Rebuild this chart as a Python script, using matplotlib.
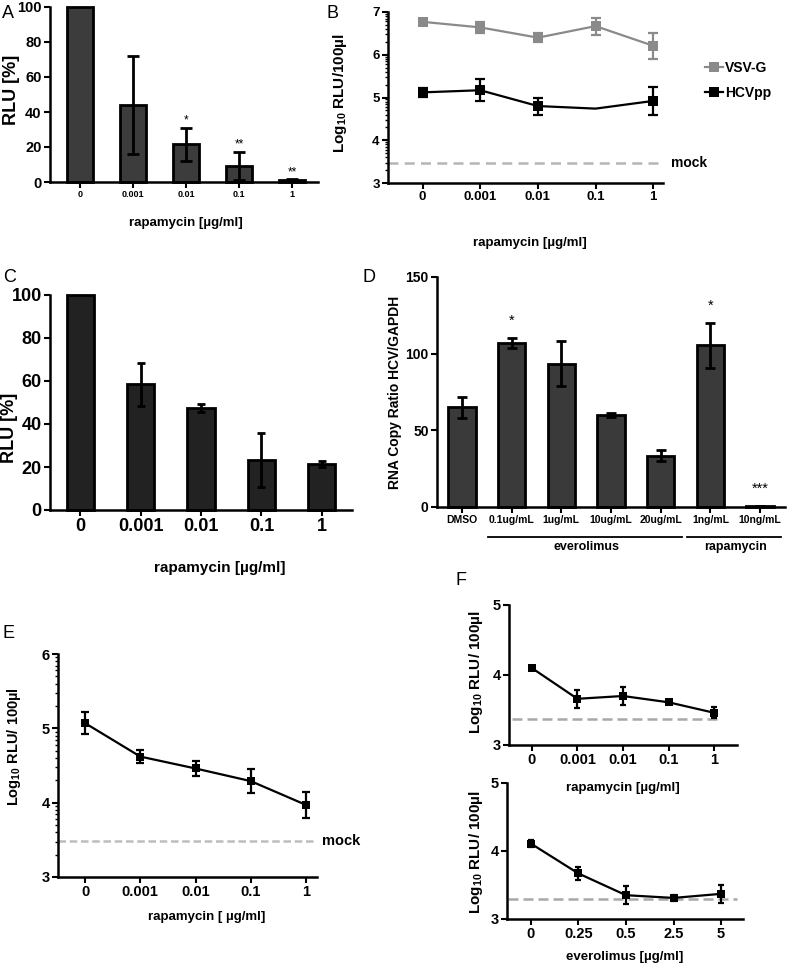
import matplotlib
matplotlib.use("Agg")
import matplotlib.pyplot as plt
import numpy as np
from matplotlib import font_manager

plt.rcParams["font.family"] = ["Liberation Sans", "DejaVu Sans"]
plt.rcParams["font.weight"] = "bold"
plt.rcParams["mathtext.fontset"] = "custom"
plt.rcParams["mathtext.rm"] = "Liberation Sans:bold"
plt.rcParams["mathtext.bf"] = "Liberation Sans:bold"
plt.rcParams["axes.facecolor"] = "none"

_names = {f.name for f in font_manager.fontManager.ttflist}
NARROW = "Liberation Sans Narrow" if "Liberation Sans Narrow" in _names else "Liberation Sans"

# ---- data -------------------------------------------------------------
rapa_doses = ["0", "0.001", "0.01", "0.1", "1"]
evero_doses = ["0", "0.25", "0.5", "2.5", "5"]

# A: RLU [%]
a_rlu = [100, 44, 21.5, 9, 1]
a_err = [0, 28, 9.5, 8, 0.5]
a_stars = ["", "", "*", "**", "**"]

# B: log10 RLU/100ul
b_vsvg = [6.77, 6.64, 6.40, 6.67, 6.21]
b_vsvg_err = [0, 0.12, 0.11, 0.2, 0.3]
b_hcvpp = [5.12, 5.17, 4.80, 4.74, 4.92]
b_hcvpp_err = [0.1, 0.26, 0.2, 0, 0.33]
b_mock = 3.47

# C: RLU [%]
c_rlu = [100, 58.5, 47.5, 23.3, 21.3]
c_err = [0, 10, 1.8, 12.5, 1.5]

# D: RNA copy ratio
d_labels = ["DMSO", "0.1ug/mL", "1ug/mL", "10ug/mL", "20ug/mL", "1ng/mL", "10ng/mL"]
d_ratio = [65, 107, 93.5, 60, 33.5, 105.5, 0.6]
d_err = [7, 3.5, 14.5, 1, 3.8, 14.8, 0.3]
d_stars = ["", "*", "", "", "", "*", "***"]
d_groups = {"everolimus": ["0.1ug/mL", "1ug/mL", "10ug/mL", "20ug/mL"],
            "rapamycin": ["1ng/mL", "10ng/mL"]}

# E
e_log = [5.07, 4.62, 4.46, 4.29, 3.97]
e_err = [0.15, 0.09, 0.1, 0.16, 0.18]
e_mock = 3.49

# F top (rapamycin) / bottom (everolimus)
f1_log = [4.10, 3.66, 3.70, 3.61, 3.46]
f1_err = [0.03, 0.13, 0.13, 0.02, 0.08]
f1_mock = 3.37
f2_log = [4.11, 3.67, 3.35, 3.31, 3.37]
f2_err = [0.05, 0.1, 0.13, 0.05, 0.13]
f2_mock = 3.30

W, H = 788, 966
fig = plt.figure(figsize=(W / 100, H / 100), dpi=100)


def box(x0, y0, x1, y1):
    # pixel box (top-left origin) -> figure fraction rect
    return [x0 / W, 1 - y1 / H, (x1 - x0) / W, (y1 - y0) / H]


def style(ax, ysize, xsize, xfamily=None):
    for s in ("top", "right"):
        ax.spines[s].set_visible(False)
    for s in ("left", "bottom"):
        ax.spines[s].set_linewidth(1.8)
    ax.tick_params(direction="out", length=4, width=1.5, pad=2)
    ax.tick_params(axis="y", labelsize=ysize)
    ax.tick_params(axis="x", labelsize=xsize)
    for t in ax.get_xticklabels() + ax.get_yticklabels():
        t.set_fontweight("bold")
    if xfamily:
        for t in ax.get_xticklabels():
            t.set_family(xfamily)


def xlabel_at(ax, text, cx, cy, size):
    ax.set_xlabel(text, fontsize=size, fontweight="bold")
    ax.xaxis.label.set_verticalalignment("center")
    ax.xaxis.set_label_coords(cx / W, 1 - cy / H, transform=fig.transFigure)


def ylabel_at(ax, text, cx, cy, size):
    ax.set_ylabel(text, fontsize=size, fontweight="bold")
    ax.yaxis.label.set_verticalalignment("center")
    ax.yaxis.set_label_coords(cx / W, 1 - cy / H, transform=fig.transFigure)


def log_minor(ax, lo, hi):
    ticks = [n + np.log10(k) for n in range(lo, hi) for k in range(2, 10)]
    ax.set_yticks(ticks, minor=True)
    ax.tick_params(axis="y", which="minor", length=2.5, width=1)


def errs(ax, x, y, e, color="black", lw=1.8, cap=3.5):
    idx = [i for i, v in enumerate(e) if v > 0]
    ax.errorbar([x[i] for i in idx], [y[i] for i in idx], yerr=[e[i] for i in idx],
                fmt="none", ecolor=color, elinewidth=lw, capsize=cap, capthick=lw, zorder=3)


def panel_letter(x, y, s):
    fig.text(x / W, 1 - y / H, s, fontsize=13, fontweight="normal", va="baseline")


# ---- A ----------------------------------------------------------------
axA = fig.add_axes(box(50, 7, 318, 182))
xa = np.arange(len(rapa_doses))
axA.bar(xa, a_rlu, 0.5, color="#3c3c3c", edgecolor="black", linewidth=2, clip_on=False, zorder=2)
errs(axA, xa, a_rlu, a_err, lw=2, cap=4)
for i, s in enumerate(a_stars):
    if s:
        axA.annotate(s, (xa[i], a_rlu[i] + a_err[i]), xytext=(0, 1), textcoords="offset points",
                     ha="center", va="bottom", fontsize=8.5, fontweight="normal")
axA.set_xlim(-0.57, 4.49)
axA.set_ylim(0, 100)
axA.set_yticks([0, 20, 40, 60, 80, 100])
axA.set_xticks(xa, rapa_doses)
style(axA, 10.5, 6.5)
xlabel_at(axA, "rapamycin [µg/ml]", 186, 223, 9.5)
ylabel_at(axA, "RLU [%]", 12, 90, 13)
panel_letter(2, 18, "A")

# ---- B ----------------------------------------------------------------
axB = fig.add_axes(box(388, 12, 663, 183))
xb = np.arange(len(rapa_doses))
axB.plot(xb, b_vsvg, "-s", color="#8a8a8a", lw=1.6, ms=6.5, mew=0, label="VSV-G", zorder=4)
errs(axB, xb, b_vsvg, b_vsvg_err, color="#8a8a8a", lw=1.6, cap=3.5)
axB.plot(xb, b_hcvpp, "-s", color="black", lw=1.6, ms=6.5, mew=0, markevery=[0, 1, 2, 4],
         label="HCVpp", zorder=4)
errs(axB, xb, b_hcvpp, b_hcvpp_err, lw=1.6, cap=3.5)
axB.axhline(b_mock, color="#b5b5b5", lw=1.8, ls=(0, (4, 2.5)), zorder=1)
axB.text(1.03, b_mock, "mock", transform=axB.get_yaxis_transform(), fontsize=10,
         fontweight="bold", va="center", ha="left")
axB.set_xlim(-0.6, 4.17)
axB.set_ylim(3, 7)
axB.set_yticks([3, 4, 5, 6, 7])
log_minor(axB, 3, 7)
axB.set_xticks(xb, rapa_doses)
style(axB, 9.5, 9.5)
xlabel_at(axB, "rapamycin [µg/ml]", 530, 243, 9.5)
ylabel_at(axB, r"Log$_{10}$ RLU/100µl", 340, 93, 11)
axB.legend(loc="upper left", bbox_to_anchor=(692 / W, 1 - 48 / H), bbox_transform=fig.transFigure,
           frameon=False, handlelength=1.3, handletextpad=0.15, labelspacing=0.8,
           prop={"weight": "bold", "size": 10})
panel_letter(327, 18, "B")

# ---- C ----------------------------------------------------------------
axC = fig.add_axes(box(50, 295, 352, 510))
xc = np.arange(len(rapa_doses))
axC.bar(xc, c_rlu, 0.45, color="#222222", edgecolor="black", linewidth=2, clip_on=False, zorder=2)
errs(axC, xc, c_rlu, c_err, lw=2, cap=3)
axC.set_xlim(-0.5, 4.5)
axC.set_ylim(0, 100)
axC.set_yticks([0, 20, 40, 60, 80, 100])
axC.set_xticks(xc, rapa_doses)
style(axC, 13, 13)
xlabel_at(axC, "rapamycin [µg/ml]", 220, 568, 11)
ylabel_at(axC, "RLU [%]", 10, 428, 13)
panel_letter(3, 282, "C")

# ---- D ----------------------------------------------------------------
axD = fig.add_axes(box(437, 277, 785, 507))
xd = np.arange(len(d_labels))
axD.bar(xd, d_ratio, 0.55, color="#3a3a3a", edgecolor="black", linewidth=2, clip_on=False, zorder=2)
errs(axD, xd, d_ratio, d_err, lw=2, cap=3.5)
for i, s in enumerate(d_stars):
    if s:
        axD.annotate(s, (xd[i], d_ratio[i] + d_err[i]), xytext=(0, 7), textcoords="offset points",
                     ha="center", va="bottom", fontsize=10.5, fontweight="normal")
axD.set_xlim(-0.5, 6.5)
axD.set_ylim(0, 150)
axD.set_yticks([0, 50, 100, 150])
axD.set_xticks(xd, d_labels)
style(axD, 10, 7.5, xfamily=NARROW)
ylabel_at(axD, "RNA Copy Ratio HCV/GAPDH", 395, 392, 10)
tr = axD.get_xaxis_transform()
for name, members in d_groups.items():
    idx = [d_labels.index(m) for m in members]
    axD.plot([min(idx) - 0.48, max(idx) + 0.42], [-0.13, -0.13], color="black", lw=1.3,
             transform=tr, clip_on=False)
    axD.text((min(idx) + max(idx)) / 2, -0.175, name, transform=tr, ha="center", va="center",
             fontsize=9, fontweight="bold")
panel_letter(362, 282, "D")

# ---- E ----------------------------------------------------------------
axE = fig.add_axes(box(58, 654, 317, 877))
xe = np.arange(len(rapa_doses))
axE.plot(xe, e_log, "-s", color="black", lw=1.6, ms=6, mew=0, zorder=4)
errs(axE, xe, e_log, e_err, lw=1.6, cap=3)
axE.axhline(e_mock, color="#bdbdbd", lw=1.8, ls=(0, (3, 1.5)), zorder=1)
axE.text(1.02, e_mock, "mock", transform=axE.get_yaxis_transform(), fontsize=10.5,
         fontweight="bold", va="center", ha="left")
axE.set_xlim(-0.49, 4.2)
axE.set_ylim(3, 6)
axE.set_yticks([3, 4, 5, 6])
log_minor(axE, 3, 6)
axE.set_xticks(xe, rapa_doses)
style(axE, 10.5, 10.5)
xlabel_at(axE, "rapamycin [ µg/ml]", 207, 917, 9.5)
ylabel_at(axE, r"Log$_{10}$ RLU/ 100µl", 14, 747, 10.5)
panel_letter(3, 638, "E")

# ---- F ----------------------------------------------------------------
axF1 = fig.add_axes(box(509, 605, 737, 745))
xf = np.arange(len(rapa_doses))
axF1.plot(xf, f1_log, "-s", color="black", lw=1.6, ms=5.5, mew=0, zorder=4)
errs(axF1, xf, f1_log, f1_err, lw=1.6, cap=2.5)
axF1.plot([-0.44, 4.15], [f1_mock, f1_mock], color="#a8a8a8", lw=1.8, ls=(0, (4, 2)), zorder=1)
axF1.set_xlim(-0.5, 4.5)
axF1.set_ylim(3, 5)
axF1.set_yticks([3, 4, 5])
axF1.set_xticks(xf, rapa_doses)
style(axF1, 10.5, 10.5)
xlabel_at(axF1, "rapamycin [µg/ml]", 623, 788, 9.5)
ylabel_at(axF1, r"Log$_{10}$ RLU/ 100µl", 476, 672, 11)

axF2 = fig.add_axes(box(507, 783, 743, 919))
xf2 = np.arange(len(evero_doses))
axF2.plot(xf2, f2_log, "-s", color="black", lw=1.6, ms=5.5, mew=0, zorder=4)
errs(axF2, xf2, f2_log, f2_err, lw=1.6, cap=2.5)
axF2.plot([-0.48, 4.34], [f2_mock, f2_mock], color="#a8a8a8", lw=1.8, ls=(0, (4, 2)), zorder=1)
axF2.set_xlim(-0.5, 4.46)
axF2.set_ylim(3, 5)
axF2.set_yticks([3, 4, 5])
axF2.set_xticks(xf2, evero_doses)
style(axF2, 10.5, 10.5)
xlabel_at(axF2, "everolimus [µg/ml]", 625, 957, 9.5)
ylabel_at(axF2, r"Log$_{10}$ RLU/ 100µl", 476, 852, 11)
panel_letter(456, 585, "F")

fig.savefig("out.png", dpi=100, facecolor="white")
